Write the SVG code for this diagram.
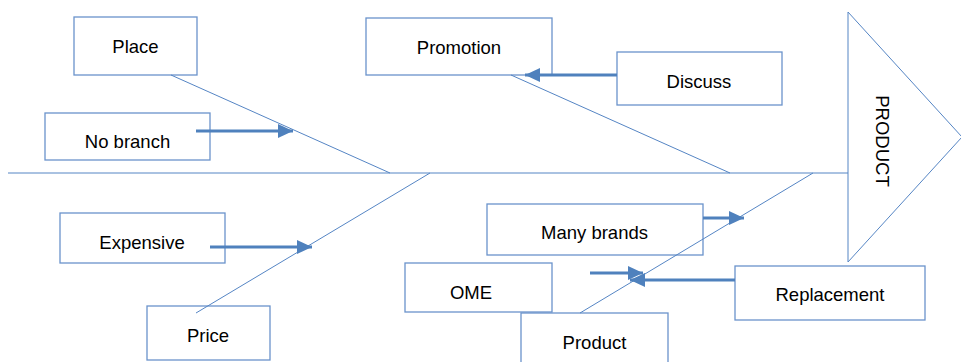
<svg xmlns="http://www.w3.org/2000/svg" width="961" height="362" viewBox="0 0 961 362">
<style>
.box{fill:#fff;stroke:#6a93cb;stroke-width:1.3}
.t{font-family:"Liberation Sans",Arial,sans-serif;font-size:18.5px;fill:#000;text-anchor:middle}
.bone{fill:none;stroke:#5585c4;stroke-width:1}
.arr{fill:none;stroke:#4f81bd;stroke-width:3;marker-end:url(#ah)}
</style>
<defs>
<marker id="ah" markerUnits="userSpaceOnUse" markerWidth="15" markerHeight="14" viewBox="0 0 15 14" refX="15" refY="7" orient="auto">
<path d="M0,0 L15,7 L0,14 z" fill="#4f81bd"/>
</marker>
</defs>
<g id="head">
<polygon points="848,12 962,137 848,262" fill="#fff" stroke="#5585c4" stroke-width="1"/>
<text class="t" transform="translate(876,141) rotate(90)">PRODUCT</text>
</g>
<g id="place"><rect class="box" x="74" y="17" width="123" height="58"/><text class="t" x="135.5" y="53">Place</text></g>
<g id="nobranch"><rect class="box" x="45" y="113" width="165" height="47"/><text class="t" x="127.5" y="148">No branch</text></g>
<g id="promotion"><rect class="box" x="366" y="18" width="186" height="57"/><text class="t" x="459" y="54">Promotion</text></g>
<g id="discuss"><rect class="box" x="617" y="52" width="165" height="53"/><text class="t" x="699" y="88">Discuss</text></g>
<g id="expensive"><rect class="box" x="60" y="213" width="165" height="50"/><text class="t" x="142" y="249">Expensive</text></g>
<g id="price"><rect class="box" x="147" y="306" width="123" height="54"/><text class="t" x="208" y="342">Price</text></g>
<g id="manybrands"><rect class="box" x="487" y="204" width="216" height="51"/><text class="t" x="594.5" y="239">Many brands</text></g>
<g id="ome"><rect class="box" x="405" y="263" width="147" height="49"/><text class="t" x="471" y="299">OME</text></g>
<g id="replacement"><rect class="box" x="735" y="266" width="190" height="54"/><text class="t" x="830" y="301">Replacement</text></g>
<g id="product"><rect class="box" x="521" y="313" width="147" height="52"/><text class="t" x="594.5" y="349">Product</text></g>
<g id="connectors">
<line class="bone" x1="8" y1="173" x2="848" y2="173"/>
<line class="bone" x1="171" y1="75" x2="390" y2="173"/>
<line class="bone" x1="511" y1="75" x2="730" y2="173"/>
<line class="bone" x1="196" y1="313" x2="430" y2="173"/>
<line class="bone" x1="580" y1="313" x2="813" y2="173"/>
<line class="arr" x1="196" y1="131" x2="293" y2="131"/>
<line class="arr" x1="617" y1="75" x2="525" y2="75"/>
<line class="arr" x1="210" y1="247" x2="312" y2="247"/>
<line class="arr" x1="703" y1="218" x2="744" y2="218"/>
<line class="arr" x1="590" y1="273" x2="643" y2="273"/>
<line class="arr" x1="735" y1="280" x2="630" y2="280"/>
</g>
</svg>
